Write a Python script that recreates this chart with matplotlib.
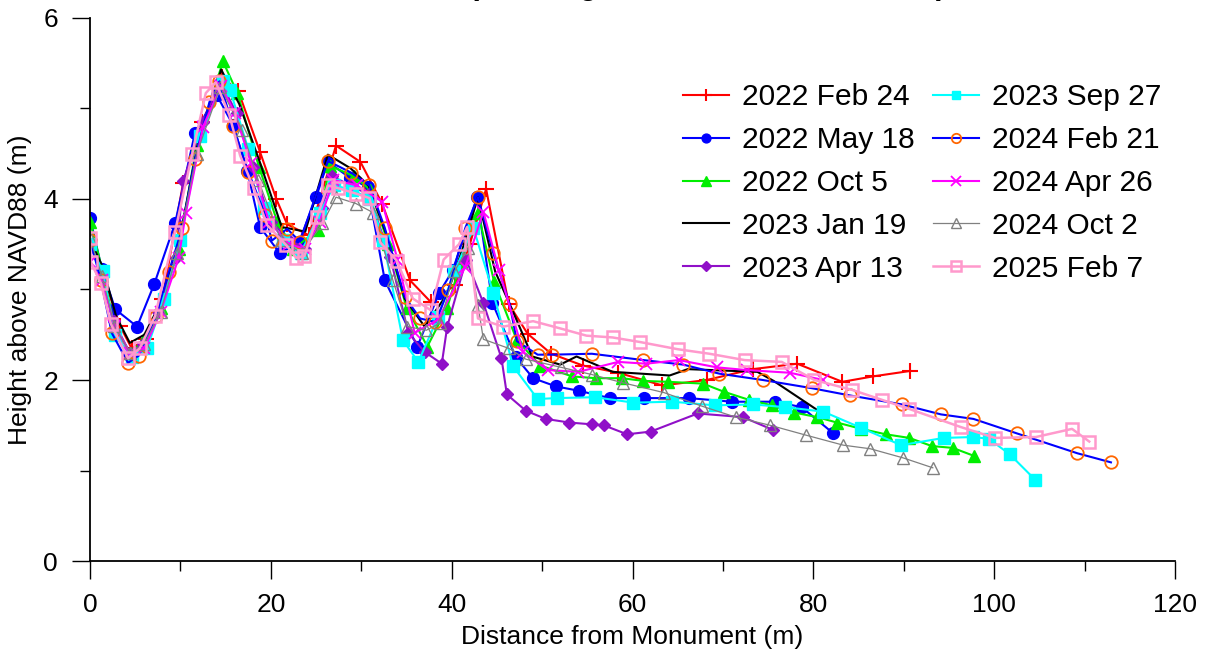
"""Beach profile plot, several survey dates"""

import matplotlib
matplotlib.use("Agg")
import matplotlib.pyplot as plt
from matplotlib.ticker import MultipleLocator

plt.rcParams['font.family'] = ['Liberation Sans', 'DejaVu Sans']

# survey data, distance (m) / height (m)
x_2022_feb24 = [0, 1.3, 3.3, 4.6, 6.2, 8.0, 10.3, 12.4, 14.6, 16.4, 18.8, 20.6, 21.8, 24.2, 27.2, 29.9,
                32.3, 35.4, 37.7, 40.4, 42.0, 43.8, 46.3, 48.4, 51.0, 54.5, 58.4, 63.3, 68.2, 73.3, 78.2,
                83.2, 86.6, 90.7]
y_2022_feb24 = [3.55, 3.2, 2.6, 2.35, 2.45, 2.9, 4.18, 4.85, 5.35, 5.19, 4.52, 4.0, 3.72, 3.6, 4.59, 4.41,
                3.95, 3.1, 2.86, 3.05, 3.5, 4.11, 2.84, 2.51, 2.29, 2.16, 2.08, 1.94, 2.0, 2.12, 2.18,
                1.98, 2.04, 2.1]

x_2022_may18 = [0, 1.3, 2.8, 5.2, 7.1, 9.4, 11.6, 14.0, 15.8, 17.4, 18.8, 21.0, 23.1, 25.0, 26.3, 28.8,
                30.7, 32.6, 36.2, 38.6, 40.1, 42.8, 44.5, 47.1, 49.0, 51.5, 54.1, 57.5, 61.3, 66.2, 71.0,
                75.8, 78.7, 82.2]
y_2022_may18 = [3.79, 3.23, 2.78, 2.59, 3.06, 3.73, 4.73, 5.15, 4.82, 4.31, 3.69, 3.4, 3.52, 4.02, 4.41, 4.23,
                4.13, 3.1, 2.37, 2.96, 3.21, 4.02, 2.85, 2.25, 2.02, 1.93, 1.88, 1.8, 1.8, 1.8, 1.76,
                1.76, 1.7, 1.41]

x_2022_oct5 = [0, 1.4, 2.8, 4.5, 6.0, 7.8, 9.8, 11.8, 14.7, 16.3, 18.7, 20.7, 22.5, 25.2, 26.5, 29.2,
               31.0, 33.0, 35.0, 37.3, 39.5, 41.0, 42.9, 44.7, 47.2, 49.8, 53.3, 55.9, 58.8, 61.2, 63.9,
               67.8, 70.1, 72.9, 75.4, 77.9, 80.4, 82.6, 85.3, 88.0, 90.6, 93.1, 95.4, 97.8]
y_2022_oct5 = [3.75, 3.2, 2.55, 2.3, 2.45, 2.8, 3.45, 4.6, 5.52, 5.17, 4.35, 3.75, 3.45, 3.66, 4.37, 4.25,
               4.1, 3.5, 2.8, 2.37, 2.8, 3.3, 3.85, 3.08, 2.44, 2.16, 2.04, 2.02, 2.02, 1.99, 1.98,
               1.96, 1.87, 1.78, 1.72, 1.64, 1.59, 1.53, 1.46, 1.4, 1.36, 1.27, 1.25, 1.16]

x_2023_jan19 = [0, 1.4, 2.9, 4.4, 6.0, 7.8, 9.8, 11.9, 14.5, 16.5, 18.8, 21.2, 23.8, 26.3, 28.8, 30.8,
                32.8, 34.8, 37.0, 39.5, 41.2, 42.9, 44.8, 46.8, 48.9, 52.0, 53.8, 57.8, 64.1, 66.1, 73.8,
                75.6, 80.4, 81.5]
y_2023_jan19 = [3.55, 3.25, 2.7, 2.41, 2.5, 2.85, 3.5, 4.6, 5.43, 5.05, 4.4, 3.69, 3.64, 4.49, 4.34, 4.15,
                3.6, 2.9, 2.59, 2.95, 3.45, 4.02, 3.2, 2.75, 2.26, 2.17, 2.26, 2.09, 2.05, 2.12, 2.09,
                1.99, 1.67, 1.6]

x_2023_apr13 = [0, 1.3, 2.6, 4.4, 5.9, 7.5, 9.5, 10.3, 12.5, 14.4, 16.2, 18.0, 20.0, 22.0, 23.8, 25.6,
                26.8, 28.8, 30.8, 33.2, 35.2, 37.0, 38.9, 39.5, 41.6, 43.5, 45.5, 46.1, 48.2, 50.4, 53.0,
                55.5, 56.8, 59.4, 62.0, 67.2, 72.2, 75.5]
y_2023_apr13 = [3.5, 3.15, 2.65, 2.3, 2.4, 2.75, 3.35, 4.2, 4.85, 5.3, 4.95, 4.35, 3.75, 3.55, 3.45, 3.9,
                4.25, 4.15, 4.05, 3.36, 2.52, 2.31, 2.18, 2.59, 3.33, 2.85, 2.24, 1.84, 1.66, 1.57, 1.53,
                1.51, 1.5, 1.4, 1.43, 1.63, 1.59, 1.45]

x_2023_sep27 = [0, 1.4, 2.8, 4.6, 6.3, 8.2, 10.0, 12.2, 14.7, 15.5, 17.5, 19.2, 21.3, 23.3, 25.4, 27.0,
                29.0, 31.0, 32.4, 34.6, 36.3, 38.5, 40.3, 42.4, 44.6, 46.8, 49.5, 51.6, 55.8, 60.1, 64.4,
                69.1, 73.3, 76.9, 81.1, 85.3, 89.7, 94.4, 97.7, 99.4, 101.7, 104.5]
y_2023_sep27 = [3.5, 3.2, 2.5, 2.25, 2.35, 2.9, 3.55, 4.7, 5.3, 5.2, 4.55, 3.9, 3.55, 3.4, 3.85, 4.15,
                4.1, 4.0, 3.55, 2.44, 2.2, 2.7, 3.2, 3.68, 2.96, 2.15, 1.79, 1.8, 1.81, 1.75, 1.76,
                1.72, 1.73, 1.7, 1.65, 1.47, 1.28, 1.36, 1.37, 1.35, 1.18, 0.9]

x_2024_feb21 = [0, 1.2, 2.4, 4.2, 5.4, 7.3, 8.7, 10.2, 11.6, 13.2, 14.3, 15.8, 17.5, 19.4, 20.1, 21.8,
                23.2, 26.3, 28.9, 30.9, 32.6, 34.8, 36.5, 38.2, 39.6, 41.5, 42.9, 44.6, 46.4, 47.2, 49.5,
                51.1, 55.5, 61.2, 65.6, 69.6, 74.4, 79.8, 84.0, 89.8, 94.1, 97.7, 102.5, 109.2, 112.9]
y_2024_feb21 = [3.55, 3.1, 2.52, 2.19, 2.27, 2.71, 3.19, 3.68, 4.44, 5.07, 5.3, 4.81, 4.3, 3.82, 3.54, 3.67,
                3.53, 4.42, 4.29, 4.15, 3.68, 2.92, 2.68, 2.64, 2.99, 3.68, 4.02, 3.4, 2.84, 2.43, 2.28,
                2.28, 2.29, 2.22, 2.17, 2.07, 2.0, 1.91, 1.83, 1.73, 1.62, 1.57, 1.41, 1.19, 1.09]

x_2024_apr26 = [0, 1.3, 2.7, 4.4, 6.0, 7.8, 9.8, 10.6, 12.5, 14.5, 16.0, 17.8, 19.8, 22.0, 23.8, 25.4,
                26.9, 29.5, 32.3, 34.0, 35.9, 38.5, 41.5, 43.5, 45.2, 47.9, 50.6, 54.0, 58.4, 61.5, 65.1,
                69.3, 72.6, 77.4, 81.1]
y_2024_apr26 = [3.3, 3.1, 2.6, 2.3, 2.35, 2.75, 3.35, 3.85, 4.8, 5.25, 4.95, 4.4, 3.75, 3.5, 3.45, 3.75,
                4.21, 4.15, 3.97, 3.33, 2.52, 2.67, 3.25, 3.86, 3.22, 2.31, 2.11, 2.09, 2.2, 2.18, 2.22,
                2.14, 2.11, 2.08, 2.0]

x_2024_oct2 = [0, 1.3, 2.7, 4.4, 6.0, 7.8, 9.6, 11.8, 14.4, 16.8, 18.6, 21.1, 23.4, 25.7, 27.2, 29.4,
               31.3, 33.5, 35.1, 37.2, 38.7, 40.3, 41.8, 42.9, 43.5, 46.3, 48.2, 52.1, 55.5, 58.9, 63.5,
               67.7, 71.4, 75.2, 79.2, 83.3, 86.3, 89.9, 93.2]
y_2024_oct2 = [3.57, 3.15, 2.6, 2.3, 2.4, 2.75, 3.4, 4.5, 5.24, 4.76, 4.21, 3.55, 3.4, 3.73, 4.02, 3.95,
               3.85, 3.1, 2.59, 2.55, 2.63, 3.2, 3.46, 2.83, 2.45, 2.35, 2.23, 2.14, 2.06, 1.97, 1.86,
               1.71, 1.59, 1.5, 1.39, 1.28, 1.24, 1.14, 1.03]

x_2025_feb7 = [0, 0.1, 1.2, 2.3, 4.2, 5.5, 7.2, 9.4, 11.3, 12.8, 13.9, 15.4, 16.6, 18.1, 19.6, 21.7,
               22.8, 23.7, 25.1, 26.3, 27.4, 29.4, 30.9, 32.1, 33.9, 35.7, 37.7, 39.1, 40.8, 41.7, 42.9,
               45.7, 49.0, 52.0, 54.9, 57.8, 60.8, 65.0, 68.5, 72.4, 76.5, 80.1, 84.3, 87.6, 90.6, 96.3,
               100.1, 104.6, 108.6, 110.5]
y_2025_feb7 = [3.57, 3.3, 3.07, 2.62, 2.24, 2.35, 2.71, 3.64, 4.5, 5.17, 5.29, 4.93, 4.48, 4.12, 3.71, 3.49,
               3.35, 3.37, 3.8, 4.15, 4.12, 4.06, 4.01, 3.52, 3.32, 2.9, 2.77, 3.33, 3.5, 3.69, 2.68,
               2.59, 2.65, 2.57, 2.49, 2.47, 2.42, 2.34, 2.29, 2.22, 2.2, 2.0, 1.89, 1.78, 1.68, 1.48,
               1.36, 1.37, 1.46, 1.32]


fig = plt.figure(figsize=(12.07, 6.59), dpi=100)
ax = fig.add_axes([0.0746, 0.1487, 0.899, 0.824])

ax.plot(x_2022_feb24, y_2022_feb24, color='#ff0000', lw=1.5, marker='+', ms=11, mew=1.5,
        label='2022 Feb 24')
ax.plot(x_2022_may18, y_2022_may18, color='#0000ff', lw=1.5, marker='o', ms=8.5,
        label='2022 May 18')
ax.plot(x_2022_oct5, y_2022_oct5, color='#00ee00', lw=1.5, marker='^', ms=9,
        label='2022 Oct 5')
ax.plot(x_2023_jan19, y_2023_jan19, color='black', lw=1.5, label='2023 Jan 19')
ax.plot(x_2023_apr13, y_2023_apr13, color='#9010c8', lw=1.5, marker='D', ms=6.5,
        label='2023 Apr 13')
ax.plot(x_2023_sep27, y_2023_sep27, color='#00ffff', lw=1.5, marker='s', ms=8.5,
        label='2023 Sep 27')
ax.plot(x_2024_feb21, y_2024_feb21, color='#0000ff', lw=1.5, marker='o', ms=9, mfc='none',
        mec='#ff6600', mew=1.3, label='2024 Feb 21')
ax.plot(x_2024_apr26, y_2024_apr26, color='#ff00ff', lw=1.5, marker='x', ms=9, mew=1.3,
        label='2024 Apr 26')
ax.plot(x_2024_oct2, y_2024_oct2, color='#808080', lw=0.9, marker='^', ms=9, mfc='none',
        mew=1.0, label='2024 Oct 2')
ax.plot(x_2025_feb7, y_2025_feb7, color='#ff99cc', lw=1.8, marker='s', ms=9, mfc='none',
        mew=1.8, label='2025 Feb 7')

ax.set_xlim(0, 120)
ax.set_ylim(0, 6)
ax.xaxis.set_major_locator(MultipleLocator(20))
ax.xaxis.set_minor_locator(MultipleLocator(10))
ax.yaxis.set_major_locator(MultipleLocator(2))
ax.yaxis.set_minor_locator(MultipleLocator(1))
ax.tick_params(which='major', direction='out', length=13, width=1, labelsize=19, pad=10)
ax.tick_params(which='minor', direction='out', length=7, width=1)

for s in ['top', 'right']:
    ax.spines[s].set_visible(False)
for s in ['left', 'bottom']:
    ax.spines[s].set_linewidth(1.3)

ax.set_xlabel('Distance from Monument (m)', fontsize=19, labelpad=6)
ax.set_ylabel('Height above NAVD88 (m)', fontsize=19, labelpad=8)

# title sits mostly above the top edge, as in the source figure
fig.text(0.586, 1.0 + 6.0 / 659, '(Looking Seaward Side, Zone 11)', fontsize=22,
         fontweight='bold', ha='center', va='baseline')

ax.legend(loc='upper right', bbox_to_anchor=(0.972, 0.892), bbox_transform=fig.transFigure,
          ncol=2, frameon=False, fontsize=21.5, handlelength=1.55, handletextpad=0.42,
          columnspacing=0.62, labelspacing=0.5, markerscale=0.75, borderaxespad=0)

fig.savefig('out.png', dpi=100)
